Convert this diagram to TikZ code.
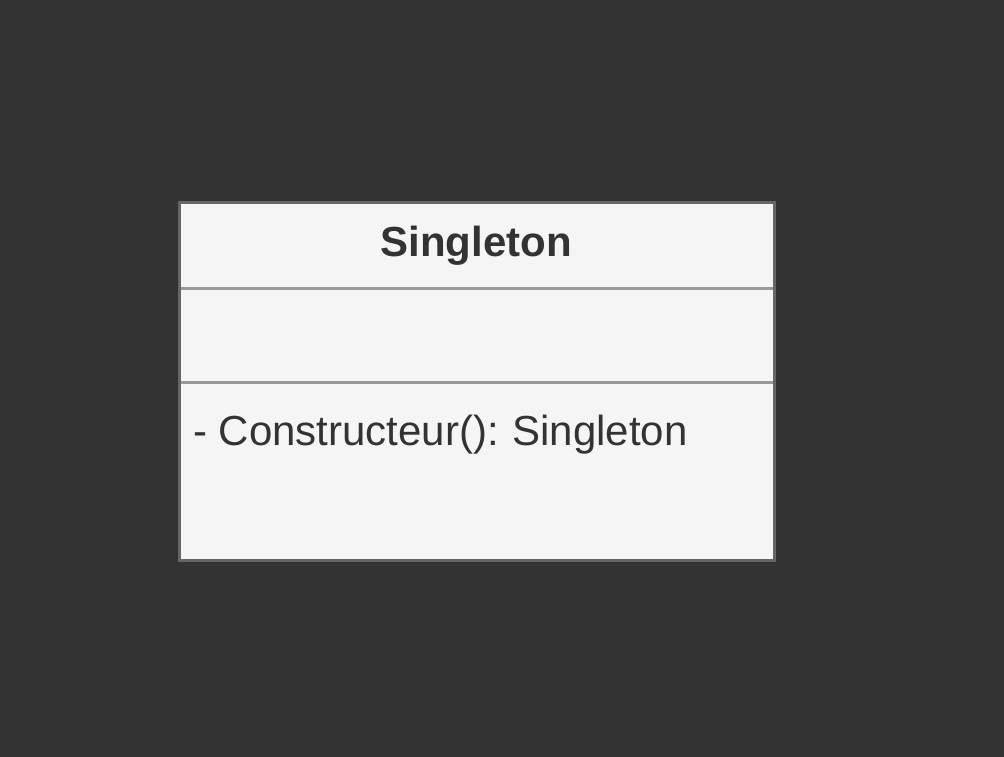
\documentclass[tikz,border=0pt]{standalone}
\usepackage{fontspec}
\setmainfont{Liberation Sans}
\usetikzlibrary{positioning}
\definecolor{bgdark}{HTML}{333333}
\definecolor{boxfill}{HTML}{F5F5F5}
\definecolor{boxline}{HTML}{666666}
\definecolor{sepline}{HTML}{999999}
\definecolor{textdark}{HTML}{333333}
\tikzset{
  compart/.style={fill=boxfill,minimum width=595pt,inner sep=0pt,outer sep=0pt},
  umltext/.style={text=textdark,font=\fontsize{42}{50}\selectfont,inner sep=0pt},
}
\begin{document}
\begin{tikzpicture}[x=1pt,y=-1pt]
  \useasboundingbox (0,0) rectangle (1004,756);
  \fill[bgdark] (-4,-4) rectangle (1008,760);
  % class compartments
  \node[compart,minimum height=86pt,anchor=north] (head) at (476.5,202.5) {};
  \node[compart,minimum height=94pt,below=0pt of head] (attrs) {};
  \node[compart,minimum height=177.5pt,below=0pt of attrs] (ops) {};
  \draw[sepline,line width=3pt] (head.south west) -- (head.south east);
  \draw[sepline,line width=3pt] (attrs.south west) -- (attrs.south east);
  \draw[boxline,line width=3pt] (head.north west) rectangle (ops.south east);
  % labels
  \node[umltext,font=\fontsize{42}{50}\selectfont\bfseries,anchor=base] (title) at (476,256) {Singleton};
  \node[umltext,anchor=base west] (ctor) at (193,445) {- Constructeur():\hspace{-2pt} Singleton};
\end{tikzpicture}
\end{document}
